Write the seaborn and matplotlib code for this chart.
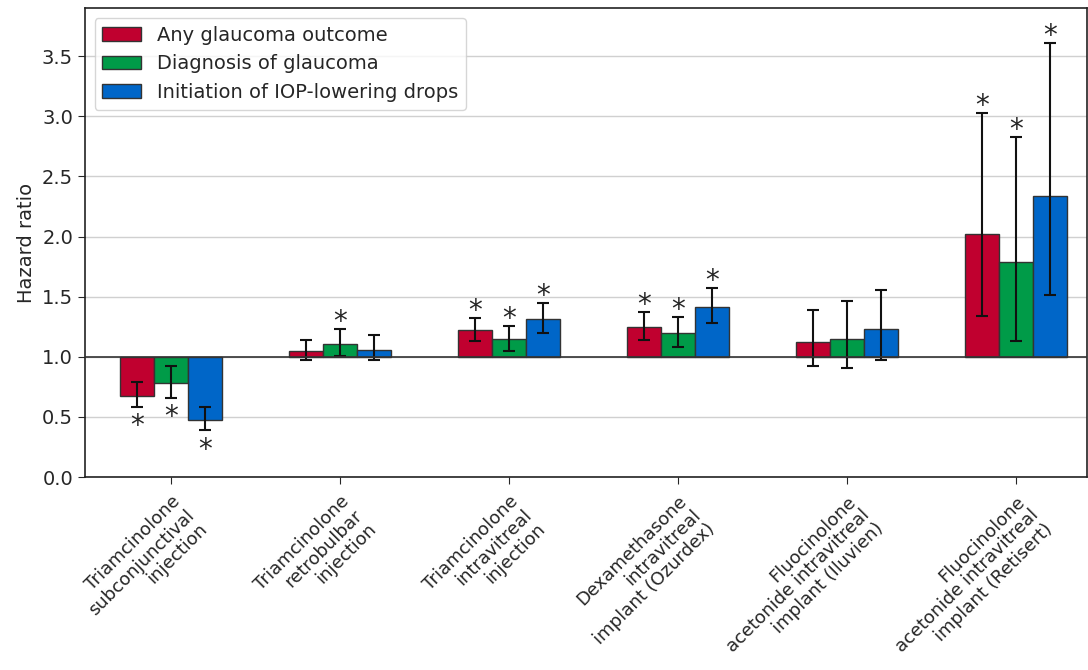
import numpy as np
import pandas as pd
import seaborn as sns
from matplotlib import pyplot as plt

categories = [
    "Triamcinolone\nsubconjunctival\ninjection",
    "Triamcinolone\nretrobulbar\ninjection",
    "Triamcinolone\nintravitreal\ninjection",
    "Dexamethasone\nintravitreal\nimplant (Ozurdex)",
    "Fluocinolone\nacetonide intravitreal\nimplant (Iluvien)",
    "Fluocinolone\nacetonide intravitreal\nimplant (Retisert)",
]
outcomes = ["Any glaucoma outcome", "Diagnosis of glaucoma", "Initiation of IOP-lowering drops"]
colors = ["#C0002F", "#009B48", "#0066C8"]

# hazard ratios with 95% CI, one list per outcome
hr_any = [0.675, 1.05, 1.225, 1.25, 1.12, 2.02]
lo_any = [0.585, 0.97, 1.13, 1.14, 0.92, 1.34]
hi_any = [0.79, 1.14, 1.32, 1.37, 1.39, 3.03]
sig_any = [True, False, True, True, False, True]

hr_diag = [0.78, 1.11, 1.15, 1.20, 1.145, 1.785]
lo_diag = [0.66, 1.01, 1.05, 1.08, 0.905, 1.13]
hi_diag = [0.92, 1.23, 1.26, 1.33, 1.46, 2.83]
sig_diag = [True, True, True, True, False, True]

hr_drops = [0.475, 1.06, 1.315, 1.415, 1.23, 2.335]
lo_drops = [0.39, 0.97, 1.20, 1.28, 0.975, 1.51]
hi_drops = [0.585, 1.18, 1.45, 1.57, 1.555, 3.61]
sig_drops = [True, False, True, True, False, True]

hr = [hr_any, hr_diag, hr_drops]
lo = [lo_any, lo_diag, lo_drops]
hi = [hi_any, hi_diag, hi_drops]
sig = [sig_any, sig_diag, sig_drops]

rows = []
for j, name in enumerate(outcomes):
    for i, cat in enumerate(categories):
        rows.append({"treatment": cat, "outcome": name, "delta": hr[j][i] - 1.0})
df = pd.DataFrame(rows)

sns.set_style("white")
plt.rcParams['font.family'] = ['DejaVu Sans']
fig = plt.figure(figsize=(10.88, 6.7), dpi=100)
ax = fig.add_axes([0.078, 0.288, 0.921, 0.7])

# bars hang from HR = 1
sns.barplot(data=df, x="treatment", y="delta", hue="outcome", hue_order=outcomes,
            palette=colors, width=0.6, gap=0, bottom=1.0, edgecolor="#333333",
            linewidth=1, saturation=1, errorbar=None, legend=False, ax=ax, zorder=3)
bar_conts = list(ax.containers)

for j, cont in enumerate(bar_conts):
    xs = np.array([b.get_x() + b.get_width() / 2 for b in cont])
    vals = np.array(hr[j])
    yerr = [vals - np.array(lo[j]), np.array(hi[j]) - vals]
    ax.errorbar(xs, vals, yerr=yerr, fmt="none", ecolor="#111111",
                elinewidth=1.5, capsize=4, capthick=1.5, zorder=4)
    for x, v, l, h, s in zip(xs, vals, lo[j], hi[j], sig[j]):
        if not s:
            continue
        if v < 1:
            ax.annotate("*", (x, l), xytext=(0, -14), textcoords="offset points",
                        ha="center", va="center", fontsize=20)
        else:
            ax.annotate("*", (x, h), xytext=(0, 5), textcoords="offset points",
                        ha="center", va="center", fontsize=20)

ax.axhline(1.0, color="#333333", linewidth=1.2, zorder=5)
ax.set_ylim(0, 3.9)
ax.set_xlim(-0.51, 5.42)
ax.set_yticks(np.arange(0, 3.51, 0.5))
ax.yaxis.grid(True, color="#d0d0d0", linewidth=1, zorder=0)
ax.set_axisbelow(True)
ax.tick_params(axis="y", labelsize=14, length=5, left=True)
ax.tick_params(axis="x", labelsize=13, length=5, bottom=True, pad=6)
ax.set_xlabel("")
ax.set_ylabel("Hazard ratio", fontsize=14)
plt.setp(ax.get_xticklabels(), rotation=45, ha="right", rotation_mode="anchor",
         linespacing=1.1)
for sp in ax.spines.values():
    sp.set_color("#222222")
    sp.set_linewidth(1.2)

ax.legend([c.patches[0] for c in bar_conts], outcomes, loc="upper left",
          fontsize=14, frameon=True, handlelength=2)

fig.savefig("out.png", dpi=100)
